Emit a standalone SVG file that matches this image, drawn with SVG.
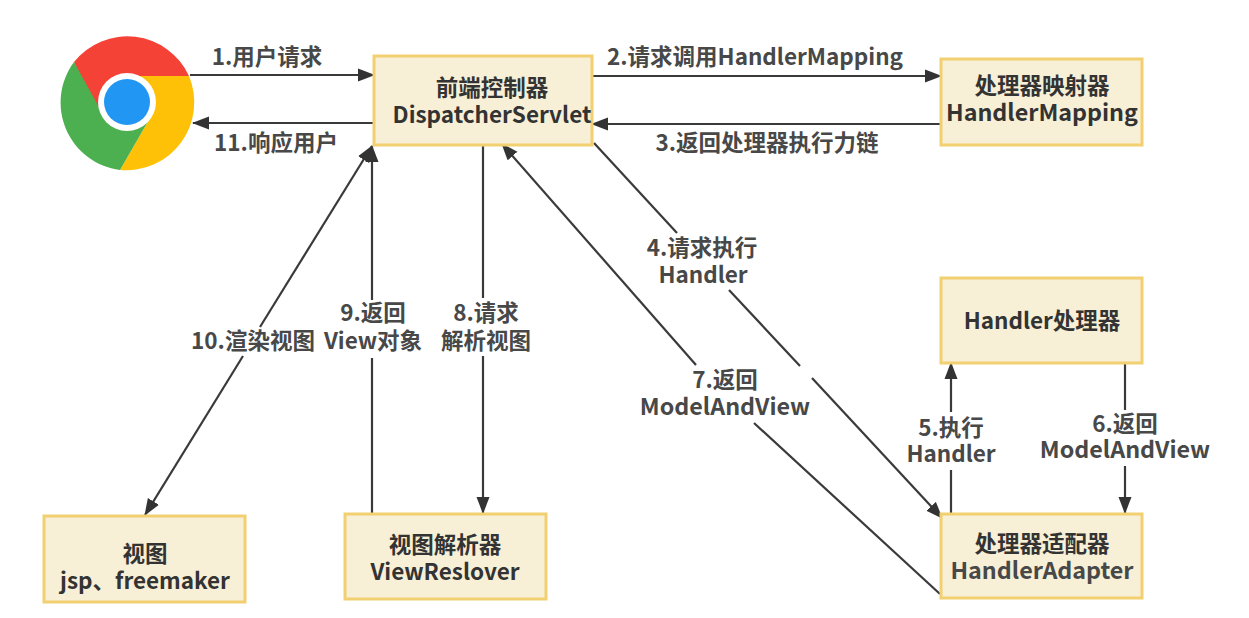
<svg xmlns="http://www.w3.org/2000/svg" width="1249" height="618" viewBox="0 0 1249 618">
<style>
text{font-family:"Noto Sans CJK SC","Noto Sans",sans-serif;font-weight:700;font-size:22.5px;text-anchor:middle;fill:#333}
text.w{font-size:23.3px}
.l text,text.g{fill:#484848}
.n{fill:#f7efd6;stroke:#f2cf70;stroke-width:3}
.c line{stroke:#3a3a3a;stroke-width:2.2;fill:none}
.a{marker-end:url(#h)}
.b{marker-start:url(#hs)}
</style>
<defs>
<marker id="h" viewBox="0 0 17 14" refX="16" refY="7" markerWidth="17" markerHeight="14" markerUnits="userSpaceOnUse" orient="auto"><path d="M0 0.5 L17 7 L0 13.5 Z" fill="#333"/></marker>
<marker id="hs" viewBox="0 0 17 14" refX="1" refY="7" markerWidth="17" markerHeight="14" markerUnits="userSpaceOnUse" orient="auto"><path d="M17 0.5 L0 7 L17 13.5 Z" fill="#333"/></marker>
</defs>
<rect width="1249" height="618" fill="#fff"/>
<g id="chrome">
<path d="M74 62 A68 68 0 0 1 189 76 L127 76 L100 120 Z" fill="#f44336"/>
<path d="M189 76 A68 68 0 0 1 120 170 L150 118 L127 76 Z" fill="#ffc107"/>
<path d="M120 170 A68 68 0 0 1 74 62 L105 118 L150 118 Z" fill="#4caf50"/>
<circle cx="127" cy="102" r="29" fill="#fff"/>
<circle cx="127" cy="102" r="23" fill="#2196f3"/>
</g>
<g id="connectors" class="c">
<line class="a" x1="190" y1="75" x2="374" y2="75"/>
<line class="a" x1="374" y1="123" x2="193" y2="123"/>
<line class="a" x1="592" y1="76" x2="941" y2="76"/>
<line class="a" x1="941" y1="124" x2="592" y2="124"/>
<line class="b" x1="372" y1="146" x2="260" y2="327"/>
<line class="a" x1="243" y1="356" x2="145" y2="515"/>
<line class="a" x1="372" y1="300" x2="372" y2="146"/>
<line x1="372" y1="358" x2="372" y2="513"/>
<line x1="483" y1="146" x2="483" y2="298"/>
<line class="a" x1="483" y1="356" x2="483" y2="513"/>
<line x1="594" y1="143" x2="677" y2="233"/>
<line x1="729" y1="290" x2="800" y2="366"/>
<line class="a" x1="812" y1="378" x2="942" y2="518"/>
<line class="a" x1="696" y1="365" x2="502" y2="144"/>
<line x1="940" y1="594" x2="754" y2="423"/>
<line class="a" x1="951" y1="412" x2="951" y2="363"/>
<line x1="951" y1="470" x2="951" y2="513"/>
<line x1="1125" y1="363" x2="1125" y2="410"/>
<line class="a" x1="1125" y1="466" x2="1125" y2="513"/>
</g>
<g id="dispatcher"><rect class="n" x="374" y="56" width="218" height="89"/><text x="492" y="96">前端控制器</text><text x="492" y="123">DispatcherServlet</text></g>
<g id="mapping"><rect class="n" x="941" y="59" width="201" height="86"/><text x="1042" y="94">处理器映射器</text><text class="w" x="1042" y="121">HandlerMapping</text></g>
<g id="handler"><rect class="n" x="941" y="278" width="201" height="85"/><text x="1042" y="329">Handler处理器</text></g>
<g id="adapter"><rect class="n" x="941" y="514" width="201" height="84"/><text x="1042" y="552">处理器适配器</text><text class="w g" x="1042" y="579">HandlerAdapter</text></g>
<g id="view"><rect class="n" x="44" y="516" width="201" height="86"/><text x="145" y="562">视图</text><text x="145" y="589">jsp、freemaker</text></g>
<g id="resolver"><rect class="n" x="345" y="514" width="201" height="85"/><text x="445" y="553">视图解析器</text><text x="445" y="580">ViewReslover</text></g>
<g id="labels" class="l">
<text x="267" y="65">1.用户请求</text>
<text x="276" y="151">11.响应用户</text>
<text x="755" y="65">2.请求调用HandlerMapping</text>
<text x="767" y="151">3.返回处理器执行力链</text>
<text x="702" y="256">4.请求执行</text><text x="703" y="283">Handler</text>
<text x="951" y="436">5.执行</text><text x="951" y="462">Handler</text>
<text x="1125" y="432">6.返回</text><text class="w" x="1125" y="458">ModelAndView</text>
<text x="725" y="388">7.返回</text><text class="w" x="725" y="415">ModelAndView</text>
<text x="486" y="321">8.请求</text><text x="486" y="349">解析视图</text>
<text x="373" y="321">9.返回</text><text x="373" y="349">View对象</text>
<text x="253" y="349">10.渲染视图</text>
</g>
</svg>
